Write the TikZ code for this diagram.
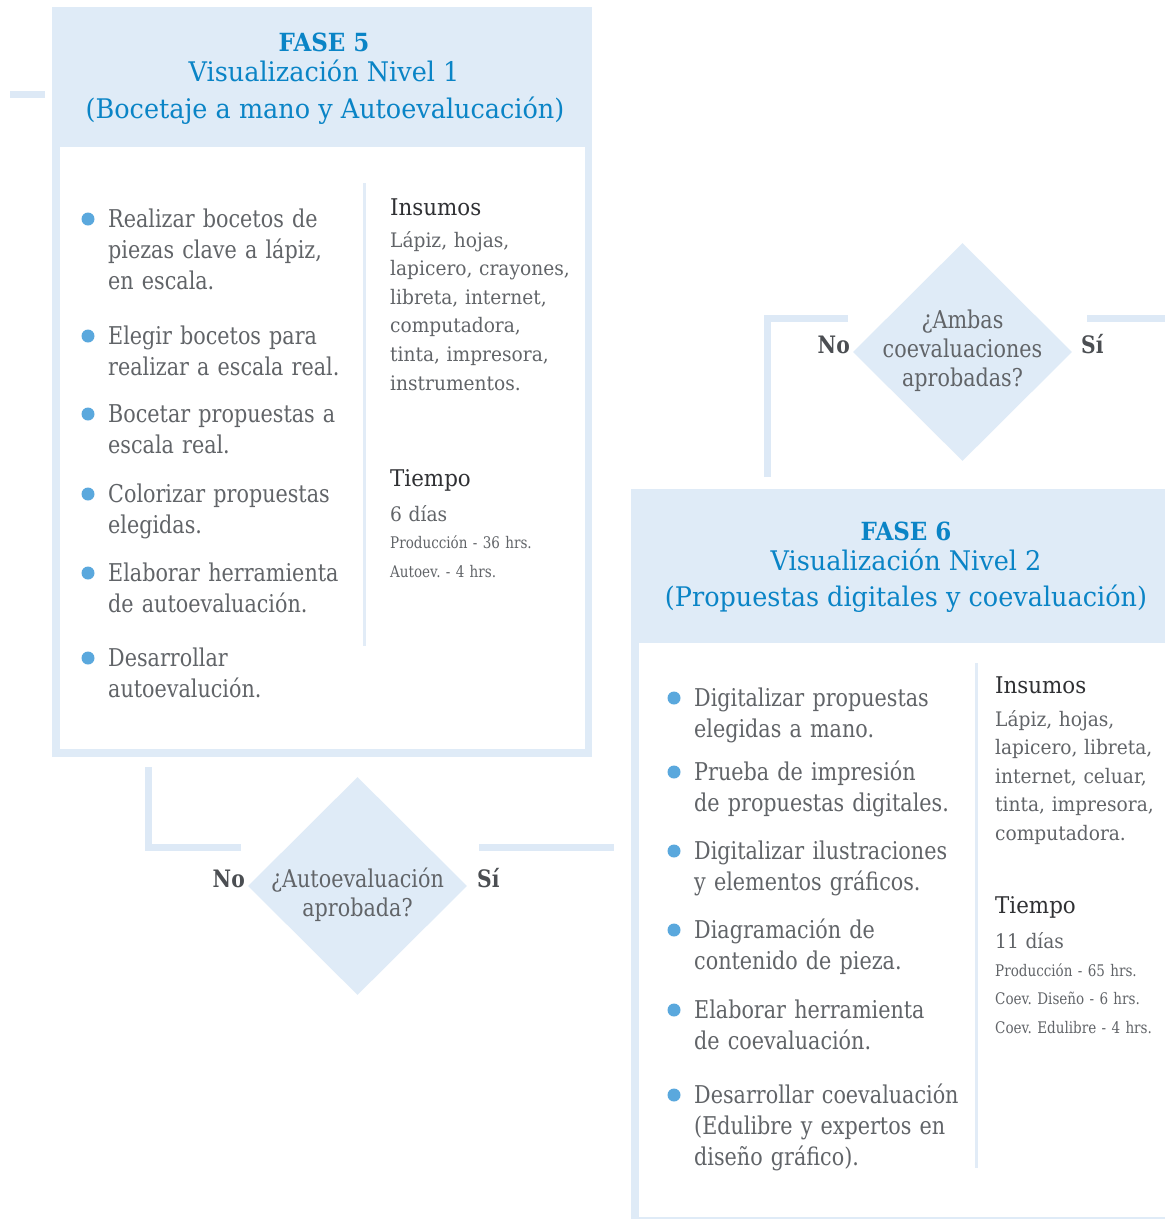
\documentclass[tikz,border=0pt]{standalone}
\usepackage{fontspec}
\setmainfont{DejaVu Serif}
\newfontfamily\bodyfont{DejaVu Serif}[FakeStretch=0.845]
\newfontfamily\smallfont{DejaVu Serif}[FakeStretch=0.845]
\newfontfamily\colfont{DejaVu Serif}[FakeStretch=0.93]
\newfontfamily\headfont{DejaVu Serif}[FakeStretch=0.945]
\newfontfamily\fasefont{DejaVu Serif}[FakeStretch=0.92]
\usetikzlibrary{shapes.geometric}

\definecolor{paleblue}{HTML}{DFEBF7}
\definecolor{lineblue}{HTML}{DDE9F6}
\definecolor{ruleblue}{HTML}{E2ECF7}
\definecolor{titleblue}{HTML}{0A84C6}
\definecolor{dotblue}{HTML}{5AA8DD}
\definecolor{bodygray}{HTML}{616468}
\definecolor{headgray}{HTML}{2F3033}
\definecolor{labelgray}{HTML}{4B4E52}

\tikzset{
  panel/.style={rectangle, fill=paleblue, inner sep=0},
  sheet/.style={rectangle, fill=white, inner sep=0},
  fase/.style={inner sep=0, text=titleblue, font=\fasefont\bfseries\fontsize{25}{25}\selectfont},
  ftitle/.style={inner sep=0, text=titleblue, font=\headfont\fontsize{27}{27}\selectfont},
  itemtext/.style={inner sep=0, anchor=base west, text width=330, align=left,
    text=bodygray, font=\bodyfont\fontsize{24.5}{31}\selectfont},
  bullet/.style={circle, fill=dotblue, inner sep=0, minimum size=13},
  colhead/.style={inner sep=0, anchor=base west, text=headgray,
    font=\colfont\fontsize{23}{28}\selectfont},
  coltext/.style={inner sep=0, anchor=base west, text width=200, align=left,
    text=bodygray, font=\colfont\fontsize{20}{28.6}\selectfont},
  smalltext/.style={inner sep=0, anchor=base west, text width=200, align=left,
    text=bodygray, font=\smallfont\fontsize{16}{28.5}\selectfont},
  divider/.style={draw=ruleblue, line width=3},
  conn/.style={draw=lineblue, line width=7, line join=miter},
  decision/.style={diamond, fill=paleblue, inner sep=0, minimum width=219, minimum height=218},
  question/.style={inner sep=0, anchor=base, text width=260, align=center,
    text=bodygray, font=\bodyfont\fontsize{24.5}{29}\selectfont},
  yesno/.style={inner sep=0, text=labelgray, font=\bodyfont\bfseries\fontsize{24}{24}\selectfont}
}

\newcommand\bitem[4]{%
  \node[bullet] (#3dot) at (#1-20,#2-8) {};
  \node[itemtext] (#3) at (#1,#2) {#4};}

\begin{document}
\frenchspacing
\begin{tikzpicture}[x=1pt,y=-1pt]
\useasboundingbox (0,0) rectangle (1165,1219);
\clip (0,0) rectangle (1165,1219);

% ---------- FASE 5 ----------
\node[panel, minimum width=540, minimum height=750] (f5) at (322,382) {};
\node[sheet, minimum width=525, minimum height=602] (f5in) at (322.5,448) {};
\node[fase, anchor=base] (f5a) at (324,51) {FASE 5};
\node[ftitle, anchor=base] (f5b) at (324,81) {Visualización Nivel 1};
\node[ftitle, anchor=base] (f5c) at (325,118) {(Bocetaje a mano y Autoevalucación)};

\draw[divider] (364,183) -- (364,646);

\bitem{108}{227}{a1}{Realizar bocetos de\\piezas clave a lápiz,\\en escala.}
\bitem{108}{344}{a2}{Elegir bocetos para\\realizar a escala real.}
\bitem{108}{422}{a3}{Bocetar propuestas a\\escala real.}
\bitem{108}{502}{a4}{Colorizar propuestas\\elegidas.}
\bitem{108}{581}{a5}{Elaborar herramienta\\de autoevaluación.}
\bitem{108}{666}{a6}{Desarrollar\\autoevalución.}

\node[colhead] (a7) at (390,215) {Insumos};
\node[coltext] (a8) at (390,247) {Lápiz, hojas,\\lapicero, crayones,\\libreta, internet,\\computadora,\\tinta, impresora,\\instrumentos.};
\node[colhead] (a9) at (390,486) {Tiempo};
\node[coltext] (a10) at (390,521) {6 días};
\node[smalltext] (a11) at (390,548.5) {Producción - 36 hrs.\\Autoev. - 4 hrs.};

% ---------- first decision ----------
\node[decision] (d1) at (357.5,886) {};
\node[question] (d1q) at (357.5,887) {¿Autoevaluación\\aprobada?};
\node[yesno, anchor=base east] (d1no) at (245,887) {No};
\node[yesno, anchor=base west] (d1si) at (477,887) {Sí};

\coordinate (n1a) at (148.5,767);
\coordinate (n1b) at (241,847);
\coordinate (s1a) at (479,847);
\coordinate (s1b) at (614,847);
\draw[conn] (n1a) |- (n1b);
\draw[conn] (s1a) -- (s1b);

\coordinate (s0) at (10,94);
\draw[conn, shorten >=7] (s0) -- (f5.west |- s0);

% ---------- second decision ----------
\node[decision] (d2) at (962.5,352) {};
\node[question] (d2q) at (962.5,328) {¿Ambas\\coevaluaciones\\aprobadas?};
\node[yesno, anchor=base east] (d2no) at (850,353) {No};
\node[yesno, anchor=base west] (d2si) at (1081,353) {Sí};

\coordinate (n2a) at (767.5,477);
\coordinate (n2b) at (848,318);
\coordinate (s2a) at (1087,318);
\coordinate (s2b) at (1170,318);
\draw[conn] (n2a) |- (n2b);
\draw[conn] (s2a) -- (s2b);

% ---------- FASE 6 ----------
\node[panel, minimum width=542, minimum height=738] (f6) at (902,858) {};
\node[sheet, minimum width=531, minimum height=574] (f6in) at (904.5,930) {};
\node[fase, anchor=base] (f6a) at (906,540) {FASE 6};
\node[ftitle, anchor=base] (f6b) at (906,570) {Visualización Nivel 2};
\node[ftitle, anchor=base] (f6c) at (906,606) {(Propuestas digitales y coevaluación)};

\draw[divider] (976,663) -- (976,1168);

\bitem{694}{706}{b1}{Digitalizar propuestas\\elegidas a mano.}
\bitem{694}{780}{b2}{Prueba de impresión\\de propuestas digitales.}
\bitem{694}{859}{b3}{Digitalizar ilustraciones\\y elementos gráficos.}
\bitem{694}{938}{b4}{Diagramación de\\contenido de pieza.}
\bitem{694}{1018}{b5}{Elaborar herramienta\\de coevaluación.}
\bitem{694}{1103}{b6}{Desarrollar coevaluación\\(Edulibre y expertos en\\diseño gráfico).}

\node[colhead] (b7) at (995,693) {Insumos};
\node[coltext] (b8) at (995,726) {Lápiz, hojas,\\lapicero, libreta,\\internet, celuar,\\tinta, impresora,\\computadora.};
\node[colhead] (b9) at (995,913) {Tiempo};
\node[coltext] (b10) at (995,948) {11 días};
\node[smalltext] (b11) at (995,976) {Producción - 65 hrs.\\Coev. Diseño - 6 hrs.\\Coev. Edulibre - 4 hrs.};
\end{tikzpicture}
\end{document}
